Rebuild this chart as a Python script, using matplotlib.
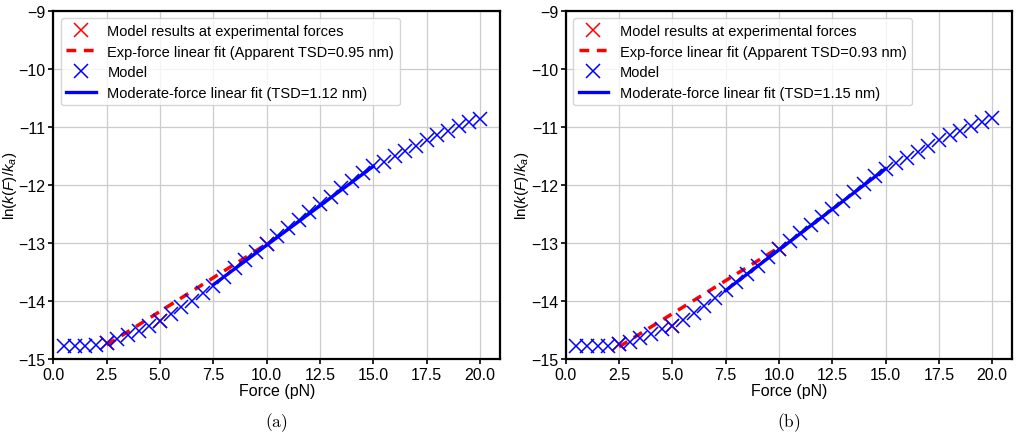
import numpy as np
import matplotlib
matplotlib.use("Agg")
import matplotlib.pyplot as plt

plt.rcParams['font.family'] = ['Liberation Sans', 'DejaVu Sans']
plt.rcParams['mathtext.fontset'] = 'custom'
plt.rcParams['mathtext.rm'] = 'Liberation Sans'
plt.rcParams['mathtext.it'] = 'Liberation Sans:italic'

# ---------------- data ----------------
force = [0.5, 1.0, 1.5, 2.0, 2.5, 3.0, 3.5, 4.0, 4.5, 5.0,
         5.5, 6.0, 6.5, 7.0, 7.5, 8.0, 8.5, 9.0, 9.5, 10.0,
         10.5, 11.0, 11.5, 12.0, 12.5, 13.0, 13.5, 14.0, 14.5, 15.0,
         15.5, 16.0, 16.5, 17.0, 17.5, 18.0, 18.5, 19.0, 19.5, 20.0]

model_a = [-14.77, -14.77, -14.77, -14.76, -14.72, -14.66, -14.59, -14.51, -14.44, -14.34,
           -14.23, -14.11, -14.00, -13.86, -13.74, -13.59, -13.44, -13.29, -13.15, -13.02,
           -12.88, -12.74, -12.61, -12.47, -12.33, -12.20, -12.06, -11.93, -11.79, -11.67,
           -11.60, -11.50, -11.41, -11.33, -11.22, -11.14, -11.07, -10.99, -10.92, -10.86]

model_b = [-14.77, -14.77, -14.77, -14.77, -14.74, -14.70, -14.64, -14.57, -14.49, -14.43,
           -14.32, -14.21, -14.08, -13.95, -13.81, -13.68, -13.54, -13.39, -13.24, -13.11,
           -12.97, -12.83, -12.69, -12.55, -12.41, -12.27, -12.13, -11.99, -11.85, -11.72,
           -11.62, -11.53, -11.43, -11.33, -11.23, -11.14, -11.07, -10.99, -10.91, -10.84]

exp_force = [2.5, 5.0, 10.0]
exp_a = [-14.72, -14.34, -13.02]
exp_b = [-14.74, -14.43, -13.11]

exp_fit_x = [2.5, 10.0]
exp_fit_a = [-14.76, -13.02]
exp_fit_b = [-14.79, -13.08]

mod_fit_x = [7.5, 15.0]
mod_fit_a = [-13.72, -11.68]
mod_fit_b = [-13.82, -11.72]

tsd_exp = [0.95, 0.93]
tsd_mod = [1.12, 1.15]
captions = ['(a)', '(b)']
xticks = [0.0, 2.5, 5.0, 7.5, 10.0, 12.5, 15.0, 17.5, 20.0]
yticks = [-15, -14, -13, -12, -11, -10, -9]

# ---------------- figure ----------------
fig = plt.figure(figsize=(10.2, 4.39), dpi=100)
lefts = [0.0523, 0.5546]
panels = [(model_a, exp_a, exp_fit_a, mod_fit_a), (model_b, exp_b, exp_fit_b, mod_fit_b)]

fs_leg = 10.5
fs_tick = 11.5
fs_lab = 11.5
for i, (model, expv, efit, mfit) in enumerate(panels):
    ax = fig.add_axes([lefts[i], 0.18, 0.438, 0.793])
    ax.plot(exp_force, expv, 'x', color='red', ms=10, mew=1.1,
            label='Model results at experimental forces')
    ax.plot(exp_fit_x, efit, '--', color='red', lw=2.5, dashes=(2.8, 2.2),
            label=f'Exp-force linear fit (Apparent TSD={tsd_exp[i]:.2f} nm)')
    ax.plot(force, model, 'x', color='blue', ms=10, mew=1.1, label='Model')
    ax.plot(mod_fit_x, mfit, '-', color='blue', lw=2.4,
            label=f'Moderate-force linear fit (TSD={tsd_mod[i]:.2f} nm)')
    ax.set_xlim(0, 20.95)
    ax.set_ylim(-15, -9)
    ax.set_xticks(xticks)
    ax.set_yticks(yticks)
    ax.tick_params(labelsize=fs_tick, width=1.2, pad=2)
    ax.grid(True, color='#cccccc', lw=0.9)
    ax.set_axisbelow(True)
    for s in ax.spines.values():
        s.set_linewidth(1.6)
    ax.set_xlabel('Force (pN)', fontsize=fs_lab, labelpad=1)
    ax.set_ylabel(r'$\mathrm{ln}(k(F)/k_a)$', fontsize=11, va='center')
    ax.yaxis.set_label_coords(-0.098, 0.5)
    ax.legend(loc='upper left', fontsize=fs_leg, handlelength=2.0,
              borderaxespad=0.5, labelspacing=0.45)
    ax.text(0.5, -0.181, r'$\mathrm{' + captions[i] + '}$', transform=ax.transAxes,
            ha='center', va='center', fontsize=12.5, math_fontfamily='cm')

fig.savefig('out.png', dpi=100)
